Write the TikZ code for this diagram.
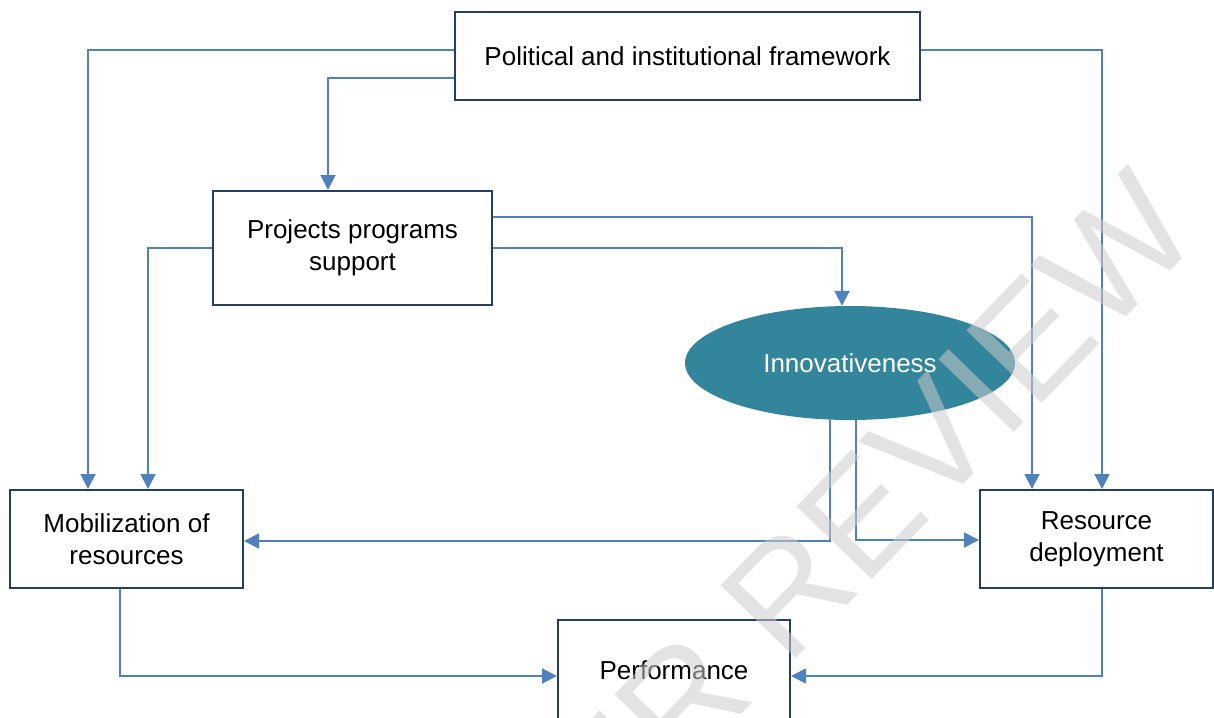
\documentclass[tikz,border=0pt]{standalone}
\usepackage{fontspec}
\setmainfont{Liberation Sans}
\usetikzlibrary{arrows.meta,shapes.geometric,calc}
\definecolor{linkblue}{HTML}{4F81BD}
\definecolor{boxnavy}{HTML}{243F60}
\definecolor{tealfill}{HTML}{33859B}
\tikzset{
  box/.style={draw=boxnavy, line width=2pt, fill=white, align=center,
    font=\fontsize{26}{31.5}\selectfont, inner sep=0pt},
  oval/.style={ellipse, fill=tealfill, draw=none, text=white, align=center,
    font=\fontsize{26}{31}\selectfont, inner sep=0pt},
  link/.style={draw=linkblue, line width=1.9pt,
    -{Triangle[length=15pt,width=15pt]}},
  mark text/.style={text=gray!40, opacity=0.55, font=\fontsize{152}{152}\selectfont}
}
\begin{document}
\begin{tikzpicture}[x=1pt,y=-1pt]
\useasboundingbox (0,0) rectangle (1214,717);
\begin{scope}
\clip (0,0) rectangle (1214,717);
\node[box, minimum width=465pt, minimum height=88pt] (pol) at (687.5,56) {Political and institutional framework};
\node[box, minimum width=279pt, minimum height=114pt] (proj) at (352.5,248) {Projects programs\\support};
\node[oval, minimum width=330pt, minimum height=114pt] (inn) at (850,363) {Innovativeness};
\node[box, minimum width=233pt, minimum height=98pt] (mob) at (126.5,539) {Mobilization of\\resources};
\node[box, minimum width=233pt, minimum height=98pt] (res) at (1096.5,539) {Resource\\deployment};
\node[box, minimum width=232pt, minimum height=100pt] (perf) at (674,670) {Performance};

\draw[link] ([yshift=6pt]pol.west) -| ([xshift=-38.5pt]mob.north);
\draw[link] ([yshift=-22pt]pol.west) -| ([xshift=-24.5pt]proj.north);
\draw[link] ([yshift=6pt]pol.east) -| ([xshift=5.5pt]res.north);
\draw[link] ([yshift=31pt]proj.east) -| ([xshift=-64.5pt]res.north);
\draw[link] (proj.east) -| ([xshift=-8pt]inn.north);
\draw[link] (proj.west) -| ([xshift=21.5pt]mob.north);
\draw[link] ([xshift=-20pt]inn.south) |- ([yshift=-2pt]mob.east);
\draw[link] ([xshift=6pt]inn.south) |- ([yshift=-1pt]res.west);
\draw[link] ([xshift=-6.5pt]mob.south) |- ([yshift=-6pt]perf.west);
\draw[link] ([xshift=5.5pt]res.south) |- ([yshift=-6pt]perf.east);

\node[mark text, rotate=46, anchor=base east, inner sep=0pt] (wm) at (1204,236) {PEER REVIEW};
\end{scope}
\end{tikzpicture}
\end{document}
